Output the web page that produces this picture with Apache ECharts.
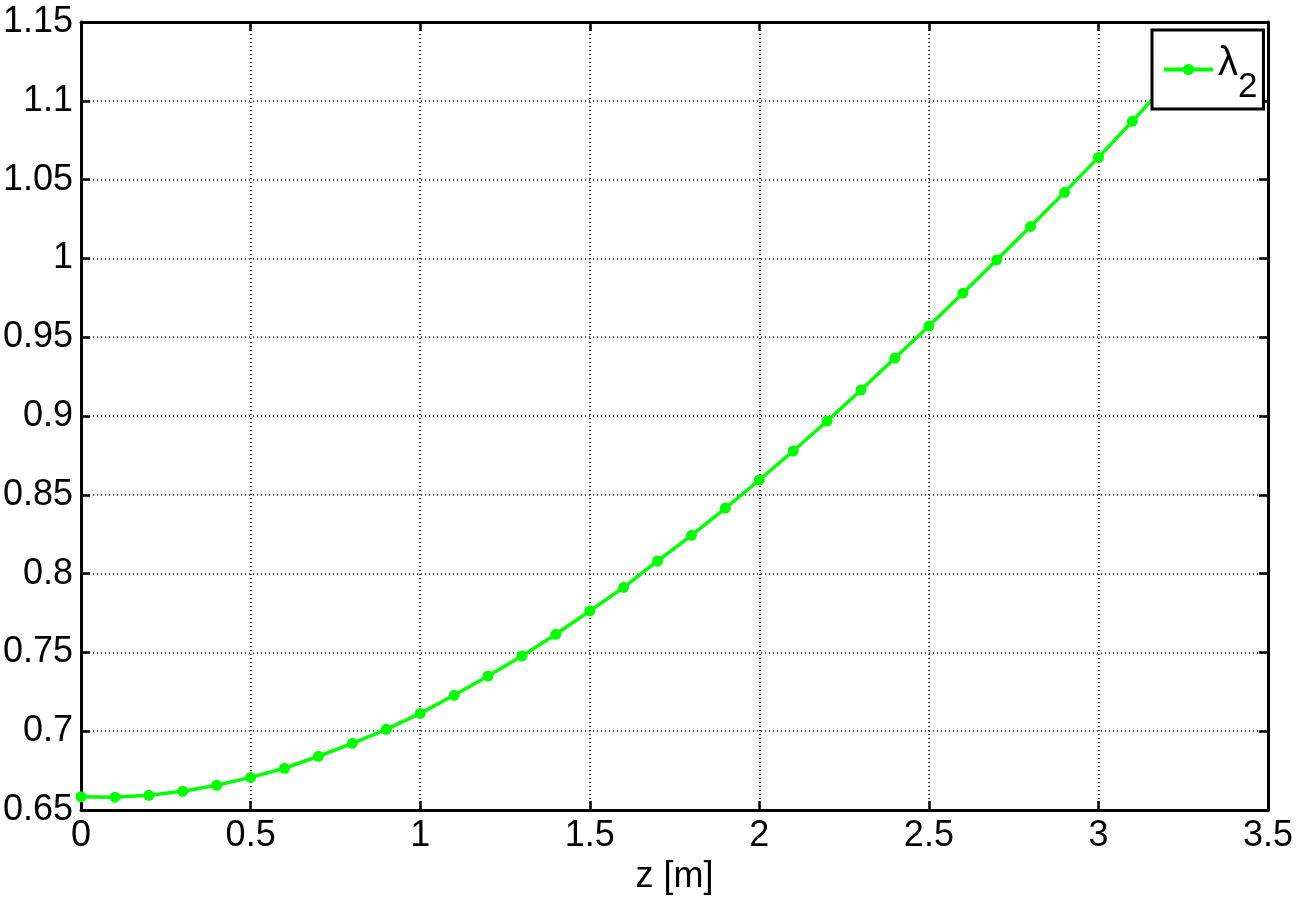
<!DOCTYPE html>
<html>
<head>
<meta charset="utf-8">
<script src="https://cdn.jsdelivr.net/npm/echarts@6/dist/echarts.min.js"></script>
<style>
html,body{margin:0;padding:0;background:#fff;}
#chart{width:1299px;height:901px;}
</style>
</head>
<body>
<div id="chart"></div>
<script>
// ---- data ----
const zValues = [0, 0.1, 0.2, 0.3, 0.4, 0.5, 0.6, 0.7, 0.8, 0.9, 1.0,
  1.1, 1.2, 1.3, 1.4, 1.5, 1.6, 1.7, 1.8, 1.9, 2.0,
  2.1, 2.2, 2.3, 2.4, 2.5, 2.6, 2.7, 2.8, 2.9, 3.0, 3.1, 3.2, 3.3];
const lambda2 = [0.6584, 0.6581, 0.6593, 0.6619, 0.6657, 0.6707, 0.6765, 0.6841, 0.6923, 0.7012, 0.7113,
  0.7228, 0.7350, 0.7477, 0.7615, 0.7763, 0.7913, 0.8080, 0.8243, 0.8416, 0.8594,
  0.8778, 0.8968, 0.9165, 0.9368, 0.9571, 0.9779, 0.9990, 1.0203, 1.0419, 1.0641, 1.0870, 1.1106, 1.1349];
const xTickLabels = ['0', '0.5', '1', '1.5', '2', '2.5', '3', '3.5'];
const yTickLabels = ['0.65', '0.7', '0.75', '0.8', '0.85', '0.9', '0.95', '1', '1.05', '1.1', '1.15'];
const seriesName = 'λ2';
const xAxisName = 'z [m]';

const FONT = 'Liberation Sans';
const chart = echarts.init(document.getElementById('chart'), null, {renderer: 'canvas'});

function fmt(labels, min, step) {
  return function (v) {
    const i = Math.round((v - min) / step);
    return labels[i] !== undefined ? labels[i] : '';
  };
}

const gridLine = {show: true, lineStyle: {color: '#000', width: 1.6, type: [1, 3]}};
const axisLine = {show: true, onZero: false, lineStyle: {color: '#000', width: 3}};
const tick = {show: true, inside: true, length: 9, lineStyle: {color: '#000', width: 2.5}};

const data = zValues.map((z, i) => [z, lambda2[i]]);

chart.setOption({
  backgroundColor: '#fff',
  animation: false,
  grid: {left: 81, top: 22, right: 31, bottom: 91, containLabel: false},
  legend: {
    show: true,
    left: 1152,
    top: 30,
    padding: [4, 6, 4, 10],
    backgroundColor: '#fff',
    borderColor: '#000',
    borderWidth: 3,
    itemWidth: 49,
    itemHeight: 14,
    z: 10,
    lineStyle: {width: 4, color: '#00ff00'},
    itemStyle: {color: '#00ff00'},
    data: [{name: seriesName}],
    formatter: function () { return '{a|λ}{b|2}'; },
    textStyle: {
      color: '#000',
      fontFamily: FONT,
      rich: {
        a: {fontSize: 40, fontFamily: FONT, color: '#000', lineHeight: 68, padding: [0, 0, 12, 0]},
        b: {fontSize: 35, fontFamily: FONT, color: '#000', lineHeight: 68, padding: [36, 0, 0, 0]}
      }
    }
  },
  xAxis: [{
    type: 'value', min: 0, max: 3.5, interval: 0.5, position: 'bottom',
    name: xAxisName, nameLocation: 'middle', nameGap: 28,
    nameTextStyle: {fontSize: 36, fontFamily: FONT, color: '#000'},
    axisLine: axisLine, axisTick: tick, splitLine: gridLine,
    axisLabel: {show: true, margin: 8, fontSize: 36, fontFamily: FONT, color: '#000',
      formatter: fmt(xTickLabels, 0, 0.5)}
  }, {
    type: 'value', min: 0, max: 3.5, interval: 0.5, position: 'top',
    axisLine: axisLine, axisTick: tick, splitLine: {show: false}, axisLabel: {show: false}
  }],
  yAxis: [{
    type: 'value', min: 0.65, max: 1.15, interval: 0.05, position: 'left',
    axisLine: axisLine, axisTick: tick, splitLine: gridLine,
    axisLabel: {show: true, margin: 8, fontSize: 36, fontFamily: FONT, color: '#000',
      formatter: fmt(yTickLabels, 0.65, 0.05)}
  }, {
    type: 'value', min: 0.65, max: 1.15, interval: 0.05, position: 'right',
    axisLine: axisLine, axisTick: tick, splitLine: {show: false}, axisLabel: {show: false}
  }],
  series: [{
    name: seriesName,
    type: 'line',
    xAxisIndex: 0, yAxisIndex: 0,
    data: data,
    clip: true,
    symbol: 'circle',
    symbolSize: 11,
    showAllSymbol: true,
    color: '#00ff00',
    lineStyle: {color: '#00ff00', width: 3.5},
    itemStyle: {color: '#00ff00', borderWidth: 0},
    z: 3
  }]
});
</script>
</body>
</html>
